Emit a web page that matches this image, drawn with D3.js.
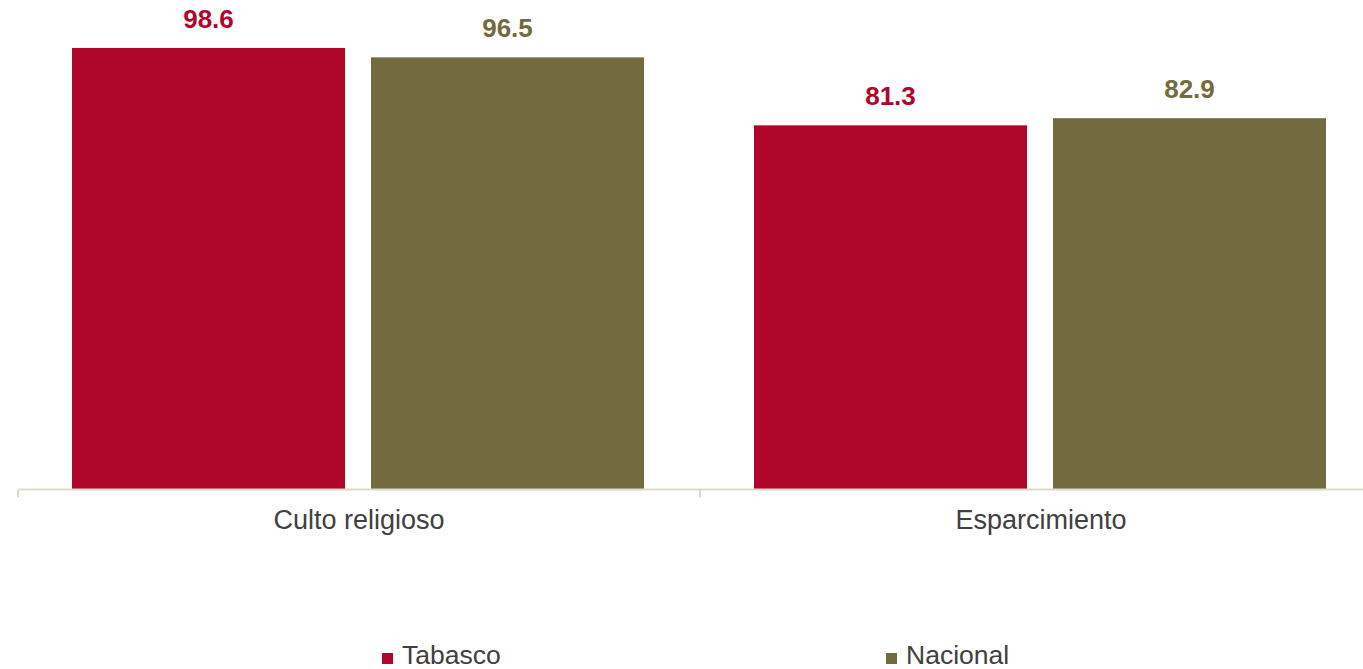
<!DOCTYPE html>
<html><head><meta charset="utf-8">
<script src="https://cdn.jsdelivr.net/npm/d3@7"></script>
<style>body{margin:0;background:#fff;} svg{display:block;}</style>
</head><body>
<svg id="c" width="1363" height="669"></svg>
<script>
const categories = ["Culto religioso", "Esparcimiento"];
const seriesNames = ["Tabasco", "Nacional"];
const tabasco = [98.6, 81.3];
const nacional = [96.5, 82.9];
const colors = ["#B0062C", "#746A40"];

const values = [tabasco, nacional];
const svg = d3.select("#c");
const font = "'Liberation Sans', Arial, sans-serif";

const x0 = d3.scaleBand().domain(categories).range([18, 1382]).padding(0);
const x1 = d3.scaleBand().domain(seriesNames).range([54, 626]).paddingInner(0.087).paddingOuter(0);
const y = d3.scaleLinear().domain([0, 100]).range([489, 41.7]);

// bars
categories.forEach((c, ci) => {
  seriesNames.forEach((s, si) => {
    const v = values[si][ci];
    const bx = x0(c) + x1(s);
    svg.append("rect")
      .attr("x", bx).attr("y", y(v))
      .attr("width", x1.bandwidth()).attr("height", y(0) - y(v))
      .attr("fill", colors[si]);
    svg.append("text")
      .attr("x", bx + x1.bandwidth() / 2).attr("y", y(v) - 20)
      .attr("text-anchor", "middle")
      .attr("font-family", font).attr("font-weight", "bold").attr("font-size", 26)
      .attr("fill", colors[si])
      .text(v.toFixed(1));
  });
});

// axis
const g = svg.append("g").attr("transform", "translate(0,489.5)");
g.append("line").attr("x1", 18).attr("x2", 1363).attr("y1", 0).attr("y2", 0)
  .attr("stroke", "#DDDACA").attr("stroke-width", 2);
const tickPos = categories.map(c => x0(c)).concat([x0.range()[1]]);
g.selectAll(".tk").data(tickPos).join("line")
  .attr("x1", d => d).attr("x2", d => d).attr("y1", 0).attr("y2", 8)
  .attr("stroke", "#DDDACA").attr("stroke-width", 2);
g.selectAll(".lbl").data(categories).join("text")
  .attr("x", d => x0(d) + x0.bandwidth() / 2).attr("y", 39)
  .attr("text-anchor", "middle")
  .attr("font-family", font).attr("font-size", 27).attr("fill", "#404040")
  .text(d => d);

// legend
const legendX = [382, 886];
seriesNames.forEach((s, i) => {
  svg.append("rect").attr("x", legendX[i]).attr("y", 653).attr("width", 11).attr("height", 11).attr("fill", colors[i]);
  svg.append("text").attr("x", legendX[i] + 20).attr("y", 664)
    .attr("font-family", font).attr("font-size", 26.5).attr("fill", "#404040").text(s);
});
</script>
</body></html>
